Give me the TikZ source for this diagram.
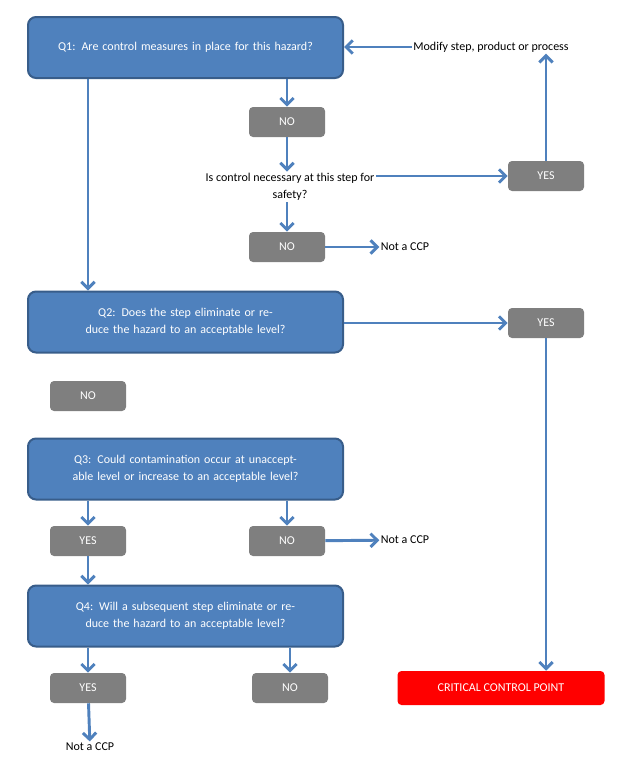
\documentclass[tikz,border=0pt]{standalone}
\usepackage{fontspec}
\setmainfont{Carlito}
\usetikzlibrary{arrows.meta}
\definecolor{qblue}{HTML}{4F81BD}
\definecolor{qedge}{HTML}{385D8A}
\definecolor{boxgray}{HTML}{7F7F7F}
\begin{document}
\begin{tikzpicture}[x=0.75pt,y=-0.75pt,font=\fontsize{9}{13}\selectfont,
  question/.style={draw=qedge,line width=1.5pt,fill=qblue,rounded corners=6pt,
    minimum width=315*0.75pt,minimum height=61*0.75pt,text width=280*0.75pt,
    align=center,text=white},
  answer/.style={fill=boxgray,rounded corners=3pt,minimum width=76*0.75pt,
    minimum height=30*0.75pt,text=white},
  flow/.style={draw=qblue,line width=2.2pt,-{Straight Barb[length=5pt,width=10pt]}}]
\useasboundingbox (0,0) rectangle (634,760);
% questions
\node [question] (q1) at (185.5,47.5) {Q1: Are control measures in place for this hazard?};
\node [question] (q2) at (185.5,322) {Q2: Does the step eliminate or reduce the hazard to an acceptable level?};
\node [question] (q3) at (185.5,469) {Q3: Could contamination occur at unacceptable level or increase to an acceptable level?};
\node [question] (q4) at (185.5,616) {Q4: Will a subsequent step eliminate or reduce the hazard to an acceptable level?};
% answers
\node [answer] (no1) at (287,122) {NO};
\node [answer] (yes1) at (546,176) {YES};
\node [answer] (no2) at (287,247) {NO};
\node [answer] (yes2) at (546,323) {YES};
\node [answer] (no3) at (88,396) {NO};
\node [answer] (yes3) at (88,541) {YES};
\node [answer] (no4) at (287,541) {NO};
\node [answer] (yes4) at (88,688) {YES};
\node [answer] (no5) at (290,688) {NO};
\node [fill=red,rounded corners=3pt,minimum width=207*0.75pt,minimum height=34*0.75pt,
  text=white] (ccp) at (501,688) {CRITICAL CONTROL POINT};
% texts
\node [align=center,inner sep=1pt] (need) at (290,187) {Is control necessary at this step for\\safety?};
\node [inner sep=1pt] (modify) at (491,47) {Modify step, product or process};
\node [inner sep=1pt] (not1) at (405,247) {Not a CCP};
\node [inner sep=1pt] (not2) at (405,540) {Not a CCP};
\node [inner sep=1pt] (not3) at (90,747) {Not a CCP};
% connectors
\draw [flow] (q1.south -| no3) -- (q2.north -| no3);
\draw [flow] (q1.south -| no1) -- (no1);
\draw [flow] (no1) -- (need.north -| no1);
\draw [flow] (need.north east |- yes1) -- (yes1);
\draw [flow] (yes1) -- (modify.south -| yes1);
\draw [flow] (modify) -- (q1.east |- modify);
\draw [flow] (need.south -| no2) -- (no2);
\draw [flow] (no2) -- (not1);
\draw [flow] (q2.east |- yes2) -- (yes2);
\draw [flow] (yes2) -- (ccp.north -| yes2);
\draw [flow] (q3.south -| yes3) -- (yes3);
\draw [flow] (q3.south -| no4) -- (no4);
\draw [flow] (no4) -- (not2);
\draw [flow] (yes3) -- (q4.north -| yes3);
\draw [flow] (q4.south -| yes4) -- (yes4);
\draw [flow] (q4.south -| no5) -- (no5);
\draw [flow] (yes4) -- (not3);
\end{tikzpicture}
\end{document}
